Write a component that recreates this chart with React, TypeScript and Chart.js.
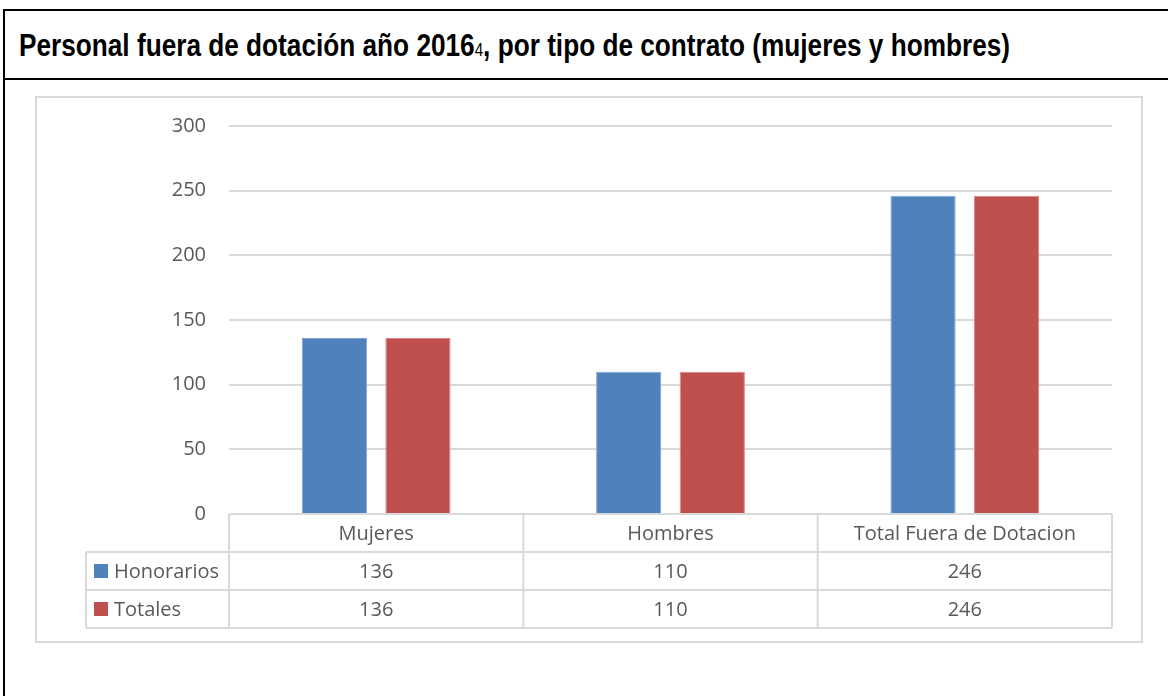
import React, { useEffect, useRef } from "react";
import { Chart, registerables } from "chart.js";

Chart.register(...registerables);

const categories = ["Mujeres", "Hombres", "Total Fuera de Dotacion"];
const seriesNames = ["Honorarios", "Totales"];
const honorarios = [136, 110, 246];
const totales = [136, 110, 246];
const seriesColors = ["#4f81bd", "#c0504d"];
const yMin = 0;
const yMax = 300;
const yStep = 50;

const TEXT_COLOR = "#595959";
const LINE_COLOR = "#d9d9d9";
const FONT = "20px 'Open Sans'";

const tablePlugin = {
  id: "dataTable",
  afterDraw(chart: any) {
    const ctx = chart.ctx as CanvasRenderingContext2D;
    const area = chart.chartArea;
    const xs = chart.scales.x;
    const labels: string[] = chart.data.labels;
    const n = labels.length;
    const cw = (area.right - area.left) / n;
    const rowH = 38;
    const tableLeft = 49;
    const y0 = area.bottom;
    const y1 = y0 + rowH;
    const y2 = y1 + rowH;
    const y3 = y2 + rowH;
    ctx.save();
    ctx.strokeStyle = LINE_COLOR;
    ctx.lineWidth = 2;
    ctx.beginPath();
    ctx.moveTo(area.left, y0);
    ctx.lineTo(area.right, y0);
    [y1, y2, y3].forEach((y) => {
      ctx.moveTo(tableLeft, y);
      ctx.lineTo(area.right, y);
    });
    for (let i = 0; i <= n; i++) {
      const x = area.left + i * cw;
      ctx.moveTo(x, y0);
      ctx.lineTo(x, y3);
    }
    ctx.moveTo(tableLeft, y1);
    ctx.lineTo(tableLeft, y3);
    ctx.stroke();

    ctx.font = FONT;
    ctx.fillStyle = TEXT_COLOR;
    ctx.textAlign = "center";
    ctx.textBaseline = "middle";
    labels.forEach((lab, i) => {
      const cx = xs.getPixelForValue(i);
      ctx.fillText(lab, cx, (y0 + y1) / 2 + 1);
    });
    chart.data.datasets.forEach((ds: any, r: number) => {
      const top = y1 + r * rowH;
      const mid = top + rowH / 2 + 1;
      ds.data.forEach((v: number, i: number) => {
        const cx = xs.getPixelForValue(i);
        ctx.fillStyle = TEXT_COLOR;
        ctx.textAlign = "center";
        ctx.fillText(String(v), cx, mid);
      });
      ctx.fillStyle = ds.backgroundColor;
      ctx.fillRect(tableLeft + 8, mid - 8, 14, 14);
      ctx.fillStyle = TEXT_COLOR;
      ctx.textAlign = "left";
      ctx.fillText(ds.label, tableLeft + 28, mid);
    });
    ctx.restore();
  },
};

export default function App() {
  const ref = useRef<HTMLCanvasElement | null>(null);
  useEffect(() => {
    if (!ref.current) return;
    const chart = new Chart(ref.current, {
      type: "bar",
      data: {
        labels: categories,
        datasets: [
          {
            label: seriesNames[0],
            data: honorarios,
            backgroundColor: seriesColors[0],
            borderColor: "#7ea3d3",
            borderWidth: 1,
            categoryPercentage: 0.568,
            barPercentage: 0.78,
          },
          {
            label: seriesNames[1],
            data: totales,
            backgroundColor: seriesColors[1],
            borderColor: "#d98583",
            borderWidth: 1,
            categoryPercentage: 0.568,
            barPercentage: 0.78,
          },
        ],
      },
      options: {
        animation: false,
        responsive: false,
        layout: { padding: { left: 0, right: 29, top: 28, bottom: 127 } },
        plugins: { legend: { display: false }, tooltip: { enabled: false }, title: { display: false } },
        scales: {
          x: { display: false },
          y: {
            min: yMin,
            max: yMax,
            ticks: { stepSize: yStep, color: TEXT_COLOR, font: { family: "'Open Sans'", size: 20 }, padding: 23 },
            grid: { color: LINE_COLOR, lineWidth: 2, drawTicks: false },
            border: { display: false },
            afterFit(scale: any) {
              scale.width = 192;
              scale.paddingTop = 0;
              scale.paddingBottom = 0;
            },
          },
        },
      },
      plugins: [tablePlugin],
    });
    return () => chart.destroy();
  }, []);

  return (
    <div style={{ position: "fixed", left: 0, top: 0, width: 1168, height: 696, overflow: "hidden", background: "#fff" }}>
      <div
        style={{
          position: "absolute",
          left: 3,
          top: 9,
          width: 1300,
          height: 800,
          border: "2px solid #000",
          boxSizing: "border-box",
        }}
      />
      <div style={{ position: "absolute", left: 3, top: 78, width: 1300, height: 2, background: "#000" }} />
      <div
        style={{
          position: "absolute",
          left: 19,
          top: 30,
          lineHeight: "31px",
          whiteSpace: "nowrap",
          fontFamily: "'Liberation Sans', Arial, sans-serif",
          fontWeight: "bold",
          fontSize: 31,
          color: "#000",
          transform: "scaleX(0.845)",
          transformOrigin: "left center",
        }}
      >
        Personal fuera de dotación año 2016
        <span style={{ fontSize: 18, fontWeight: "normal" }}>4</span>, por tipo de contrato (mujeres y hombres)
      </div>
      <div
        style={{
          position: "absolute",
          left: 35,
          top: 96,
          width: 1108,
          height: 547,
          border: "2px solid #d9d9d9",
          boxSizing: "border-box",
        }}
      />
      <canvas ref={ref} width={1104} height={543} style={{ position: "absolute", left: 37, top: 98 }} />
    </div>
  );
}
